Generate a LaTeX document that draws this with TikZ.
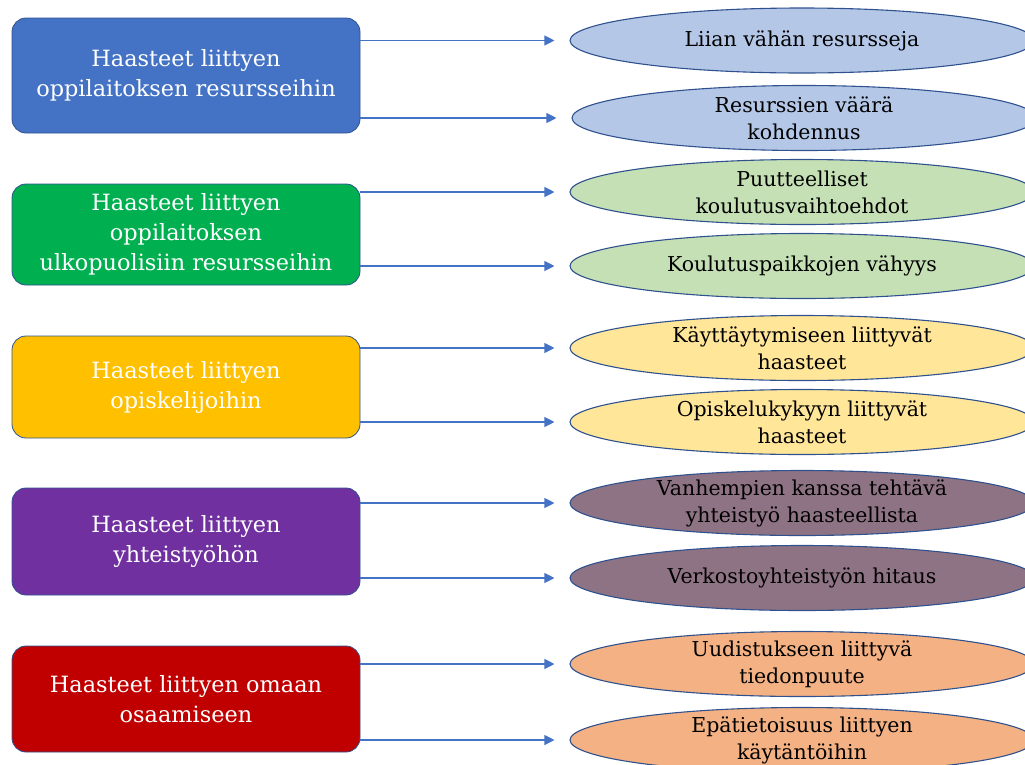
\documentclass[tikz,border=0pt]{standalone}
\usepackage{fontspec}
\setmainfont{DejaVu Serif}
\usetikzlibrary{arrows.meta,shapes.geometric}
\definecolor{edgeblue}{HTML}{2F528F}
\definecolor{arrowblue}{HTML}{4472C4}
\definecolor{cblue}{HTML}{4472C4}
\definecolor{cgreen}{HTML}{00B050}
\definecolor{cgold}{HTML}{FFC000}
\definecolor{cpurple}{HTML}{7030A0}
\definecolor{cred}{HTML}{C00000}
\definecolor{lblue}{HTML}{B4C7E7}
\definecolor{lgreen}{HTML}{C5E0B4}
\definecolor{lyellow}{HTML}{FFE699}
\definecolor{lmauve}{HTML}{8E7384}
\definecolor{lorange}{HTML}{F4B183}
\begin{document}
\begin{tikzpicture}[x=1pt,y=-1pt,
  catbox/.style={draw=edgeblue, line width=0.8pt, rounded corners=14pt,
    minimum width=348pt, align=center, text=white, inner sep=0pt,
    font=\fontsize{22.4}{30}\selectfont},
  itemell/.style={ellipse, draw=edgeblue, line width=1.1pt,
    minimum width=464pt, minimum height=65pt, inner sep=0pt},
  itemtxt/.style={align=center, text=black, inner sep=0pt,
    font=\fontsize{20.5}{27}\selectfont},
  conn/.style={draw=arrowblue, line width=1.1pt,
    -{Triangle[length=10pt,width=10pt]}, shorten >=15pt}]
\useasboundingbox (0,0) rectangle (1025,764);
\clip (0,0) rectangle (1025,764);

% category boxes
\node[catbox, fill=cblue,   minimum height=115pt] (b1) at (186,75.5) {Haasteet liittyen\\oppilaitoksen resursseihin};
\node[catbox, fill=cgreen,  minimum height=101pt] (b2) at (186,234.5) {Haasteet liittyen\\oppilaitoksen\\ulkopuolisiin resursseihin};
\node[catbox, fill=cgold,   minimum height=102pt] (b3) at (186,387) {Haasteet liittyen\\opiskelijoihin};
\node[catbox, fill=cpurple, minimum height=107pt] (b4) at (186,541.5) {Haasteet liittyen\\yhteistyöhön};
\node[catbox, fill=cred,    minimum height=106pt] (b5) at (186,699) {Haasteet liittyen omaan\\osaamiseen};

% ellipses
\node[itemell, fill=lblue]   (e1)  at (802,40.5) {};
\node[itemell, fill=lblue]   (e2)  at (804,118) {};
\node[itemell, fill=lgreen]  (e3)  at (802,192) {};
\node[itemell, fill=lgreen]  (e4)  at (802,266) {};
\node[itemell, fill=lyellow] (e5)  at (802,348) {};
\node[itemell, fill=lyellow] (e6)  at (802,422) {};
\node[itemell, fill=lmauve]  (e7)  at (802,503) {};
\node[itemell, fill=lmauve]  (e8)  at (802,578) {};
\node[itemell, fill=lorange] (e9)  at (802,664) {};
\node[itemell, fill=lorange] (e10) at (802,740) {};

\node[itemtxt] (t1)  at (e1)  {Liian vähän resursseja};
\node[itemtxt] (t2)  at (e2)  {Resurssien väärä\\kohdennus};
\node[itemtxt] (t3)  at (e3)  {Puutteelliset\\koulutusvaihtoehdot};
\node[itemtxt] (t4)  at (e4)  {Koulutuspaikkojen vähyys};
\node[itemtxt] (t5)  at (e5)  {Käyttäytymiseen liittyvät\\haasteet};
\node[itemtxt] (t6)  at (e6)  {Opiskelukykyyn liittyvät\\haasteet};
\node[itemtxt] (t7)  at (e7)  {Vanhempien kanssa tehtävä\\yhteistyö haasteellista};
\node[itemtxt] (t8)  at (e8)  {Verkostoyhteistyön hitaus};
\node[itemtxt] (t9)  at (e9)  {Uudistukseen liittyvä\\tiedonpuute};
\node[itemtxt] (t10) at (e10) {Epätietoisuus liittyen\\käytäntöihin};

% connectors
\draw[conn] (b1.east |- e1) -- (e1.west);
\draw[conn] (b1.east |- e2) -- (e2.west);
\draw[conn] (b2.east |- e3) -- (e3.west);
\draw[conn] (b2.east |- e4) -- (e4.west);
\draw[conn] (b3.east |- e5) -- (e5.west);
\draw[conn] (b3.east |- e6) -- (e6.west);
\draw[conn] (b4.east |- e7) -- (e7.west);
\draw[conn] (b4.east |- e8) -- (e8.west);
\draw[conn] (b5.east |- e9) -- (e9.west);
\draw[conn] (b5.east |- e10) -- (e10.west);
\end{tikzpicture}
\end{document}
